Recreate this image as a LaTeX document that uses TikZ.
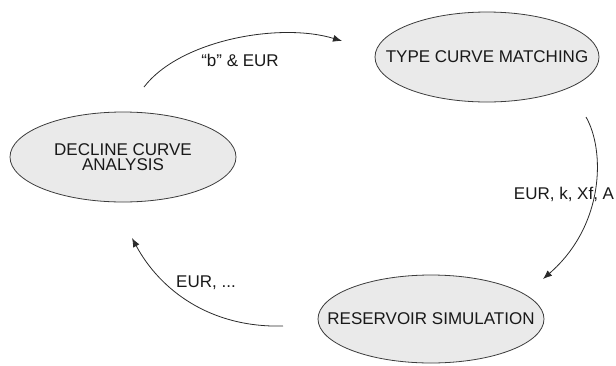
\documentclass[tikz,border=0pt]{standalone}
\usepackage{fontspec}
\setmainfont{Liberation Sans}
\usetikzlibrary{shapes.geometric,arrows.meta}
\definecolor{ellfill}{RGB}{234,234,234}
\definecolor{ellline}{RGB}{60,60,60}
\definecolor{txt}{RGB}{25,25,25}
\tikzset{
  stage/.style={ellipse, draw=ellline, line width=0.8pt, fill=ellfill, inner sep=0pt},
  stagetext/.style={text=txt, align=center, inner sep=0pt, font=\fontsize{17}{15.5}\selectfont},
  flow/.style={draw=ellline!70!black, line width=0.8pt, -{Latex[length=9pt,width=7pt]}},
  lbl/.style={text=txt, font=\fontsize{17}{18}\selectfont, inner sep=0pt}
}
\begin{document}
\begin{tikzpicture}[x=1pt,y=-1pt]
\useasboundingbox (0,0) rectangle (616,365);
\node[stage, minimum width=226pt, minimum height=90pt] (dca) at (123,157) {};
\node[stage, minimum width=224pt, minimum height=90pt] (tcm) at (487,57) {};
\node[stage, minimum width=226pt, minimum height=88pt] (rs) at (431,319) {};
\node[stagetext] (dcat) at (dca.center) {DECLINE CURVE\\ANALYSIS};
\node[stagetext] (tcmt) at (tcm.center) {TYPE CURVE MATCHING};
\node[stagetext] (rst) at (rs.center) {RESERVOIR SIMULATION};
\coordinate (a1s) at (144,87);
\coordinate (a1e) at (342,41);
\coordinate (a2s) at (586,117);
\coordinate (a2e) at (543,279);
\coordinate (a3s) at (283,326);
\coordinate (a3e) at (132,238);
\draw[flow] (a1s) .. controls (180,40) and (280,22) .. (a1e);
\draw[flow] (a2s) .. controls (605,150) and (605,225) .. (a2e);
\draw[flow] (a3s) .. controls (210,328) and (160,290) .. (a3e);
\node[lbl] (l1) at (240,60) {“b” \& EUR};
\node[lbl] (l2) at (564,194) {EUR, k, Xf, A};
\node[lbl] (l3) at (206,283) {EUR, ...};
\end{tikzpicture}
\end{document}
